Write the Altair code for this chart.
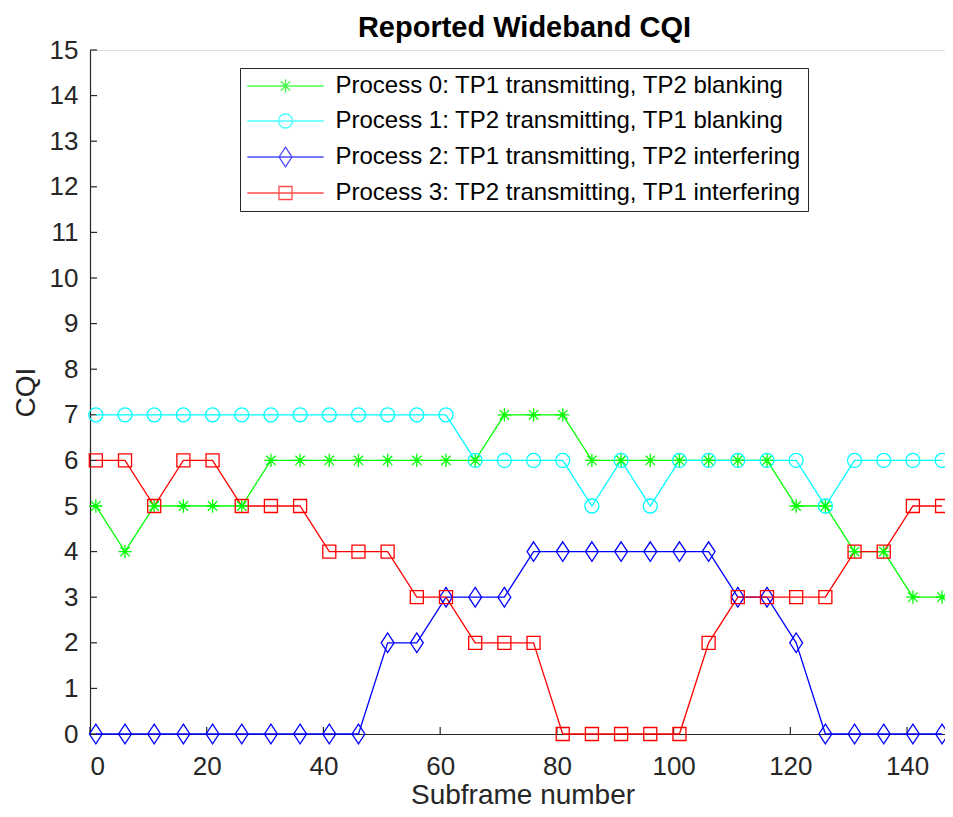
import altair as alt
import pandas as pd

# ---- data ----
subframes = [1, 6, 11, 16, 21, 26, 31, 36, 41, 46, 51, 56, 61, 66, 71,
             76, 81, 86, 91, 96, 101, 106, 111, 116, 121, 126, 131, 136, 141, 146]
process0 = [5, 4, 5, 5, 5, 5, 6, 6, 6, 6, 6, 6, 6, 6, 7,
            7, 7, 6, 6, 6, 6, 6, 6, 6, 5, 5, 4, 4, 3, 3]
process1 = [7, 7, 7, 7, 7, 7, 7, 7, 7, 7, 7, 7, 7, 6, 6,
            6, 6, 5, 6, 5, 6, 6, 6, 6, 6, 5, 6, 6, 6, 6]
process2 = [0, 0, 0, 0, 0, 0, 0, 0, 0, 0, 2, 2, 3, 3, 3,
            4, 4, 4, 4, 4, 4, 4, 3, 3, 2, 0, 0, 0, 0, 0]
process3 = [6, 6, 5, 6, 6, 5, 5, 5, 4, 4, 4, 3, 3, 2, 2,
            2, 0, 0, 0, 0, 0, 2, 3, 3, 3, 3, 4, 4, 5, 5]

series_names = [
    "Process 0: TP1 transmitting, TP2 blanking",
    "Process 1: TP2 transmitting, TP1 blanking",
    "Process 2: TP1 transmitting, TP2 interfering",
    "Process 3: TP2 transmitting, TP1 interfering",
]
series_colors = ["#00ff00", "#00ffff", "#0000ff", "#ff0000"]
x_ticks = [0, 20, 40, 60, 80, 100, 120, 140]
y_ticks = list(range(0, 16))
chart_title = ["Reported Wideband CQI"]

# ---- build table ----
rows = []
for name, vals in zip(series_names, [process0, process1, process2, process3]):
    for i, (x, v) in enumerate(zip(subframes, vals)):
        rows.append({"x": x, "cqi": v, "series": name, "order": i})
df = pd.DataFrame(rows)

# marker shapes (unit = 7 px with size 196)
star = "M-0.95,0L0.95,0M0,-0.95L0,0.95M-0.67,-0.67L0.67,0.67M-0.67,0.67L0.67,-0.67"
circle = "M1,0A1,1,0,1,1,-1,0A1,1,0,1,1,1,0Z"
diamond = "M0,-1.4L0.92,0L0,1.4L-0.92,0Z"
square = "M-0.93,-0.93L0.93,-0.93L0.93,0.93L-0.93,0.93Z"
markers = [star, circle, diamond, square]
seg = "M-5.45,0L5.45,0"
legend_markers = [m + seg for m in markers]

W, H = 855, 684
FONT = "Liberation Sans"
AX = "#262626"

xscale = alt.Scale(domain=[0, 146.5], nice=False, zero=False)
yscale = alt.Scale(domain=[0, 15], nice=False)
cscale = alt.Scale(domain=series_names, range=series_colors)

xaxis = alt.Axis(values=x_ticks, title="Subframe number", grid=False, ticks=False,
                 tickSize=0, labelPadding=19, labelFontSize=26, labelColor=AX,
                 titleFontSize=28, titleColor=AX, titleFontWeight="normal",
                 titleBaseline="alphabetic", titleY=69, titleX=W / 2 + 5,
                 domainColor=AX, domainWidth=1.2, labelFont=FONT, titleFont=FONT)
yaxis = alt.Axis(values=y_ticks, title="CQI", grid=False, ticks=False, tickSize=0,
                 labelPadding=12, labelFontSize=26, labelColor=AX,
                 titleFontSize=28, titleColor=AX, titleFontWeight="normal",
                 titleBaseline="alphabetic", titleX=-56, titleY=H / 2,
                 titleAngle=-90, domainColor=AX, domainWidth=1.2,
                 labelFont=FONT, titleFont=FONT)

base = alt.Chart(df)

lines = base.mark_line(strokeWidth=1.3).encode(
    x=alt.X("x:Q", scale=xscale, axis=xaxis),
    y=alt.Y("cqi:Q", scale=yscale, axis=yaxis),
    color=alt.Color("series:N", scale=cscale, legend=None),
    detail="series:N",
    order="order:Q",
)

points = base.mark_point(filled=False, size=196, strokeWidth=1.3, opacity=1).encode(
    x=alt.X("x:Q", scale=xscale),
    y=alt.Y("cqi:Q", scale=yscale),
    color=alt.Color("series:N", scale=cscale, legend=None),
    shape=alt.Shape("series:N", scale=alt.Scale(domain=series_names, range=markers),
                    legend=None),
)

leg = alt.Legend(title=None, orient="none", legendX=150, legendY=18,
                 fillColor="white", strokeColor=AX, padding=6,
                 symbolSize=196, symbolStrokeWidth=1.3, symbolOffset=27.5,
                 labelOffset=38, labelFontSize=24, labelFont=FONT,
                 labelColor="#000000", labelLimit=0, rowPadding=11,
                 symbolType="circle")

legend_layer = base.mark_point(filled=False, size=196, strokeWidth=1.3).encode(
    x=alt.X("x:Q", scale=xscale),
    y=alt.Y("cqi:Q", scale=yscale),
    color=alt.Color("series:N", scale=cscale, legend=leg),
    shape=alt.Shape("series:N", scale=alt.Scale(domain=series_names, range=legend_markers),
                    legend=leg),
).transform_filter("datum.x < -1000")

xt = pd.DataFrame({"t": x_ticks})
yt = pd.DataFrame({"t": y_ticks})
xtick_layer = alt.Chart(xt).mark_rule(color=AX, strokeWidth=1.2).encode(
    x=alt.X("t:Q", scale=xscale), y=alt.value(H), y2=alt.value(H - 7))
ytick_layer = alt.Chart(yt).mark_rule(color=AX, strokeWidth=1.2).encode(
    y=alt.Y("t:Q", scale=yscale), x=alt.value(0), x2=alt.value(7))

title_layer = alt.Chart(pd.DataFrame({"t": chart_title})).mark_text(
    font=FONT, fontSize=29, fontWeight="bold", color="#000000",
    align="center", baseline="alphabetic"
).encode(text="t:N", x=alt.value(W / 2 + 7), y=alt.value(-13))

chart = alt.layer(xtick_layer, ytick_layer, lines, points, legend_layer,
                  title_layer).resolve_scale(
    color="independent", shape="independent"
).properties(
    width=W, height=H,
    autosize=alt.AutoSizeParams(type="none"),
    padding={"left": 82, "top": 42, "right": 0, "bottom": 75},
).configure_view(stroke=None).configure(background="white")

chart.save("out.html", embed_options={"renderer": "svg", "actions": False})
